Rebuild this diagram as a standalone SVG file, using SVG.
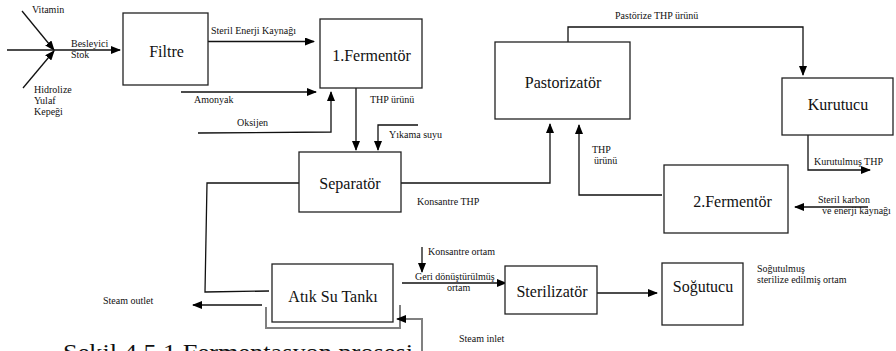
<svg xmlns="http://www.w3.org/2000/svg" width="896" height="351" viewBox="0 0 896 351">
<defs>
<marker id="arr" markerUnits="userSpaceOnUse" markerWidth="10" markerHeight="8" refX="9" refY="4" orient="auto">
<path d="M0,0 L10,4 L0,8 z" fill="#000"/>
</marker>
<style>
text{font-family:'Liberation Serif','DejaVu Serif','Times New Roman',serif}
.box{fill:#fff;stroke:#222;stroke-width:1.3}
.big{font-size:16px;fill:#111;text-anchor:middle}
.sm{font-size:10px;fill:#111}
.ln{fill:none;stroke:#111;stroke-width:1.3}
.gray{fill:none;stroke:#808080;stroke-width:2}
.cap{font-size:23.5px;fill:#111}
</style>
</defs>
<rect width="896" height="351" fill="#fff"/>
<g id="connectors">
<path class="ln" d="M22,11 L54,50" marker-end="url(#arr)"/>
<path class="ln" d="M23,88 L54,51" marker-end="url(#arr)"/>
<path class="ln" d="M7,50 L120,50" marker-end="url(#arr)"/>
<path class="ln" d="M208,41.5 L314,41.5" marker-end="url(#arr)"/>
<path class="ln" d="M181,92 L316,92" marker-end="url(#arr)"/>
<path class="ln" d="M198,133 L331,132 L331,92" marker-end="url(#arr)"/>
<path class="ln" d="M356,88 L356,150" marker-end="url(#arr)"/>
<path class="ln" d="M418,125 L378,125 L378,150" marker-end="url(#arr)"/>
<path class="ln" d="M299,183 L207,183 L205,292 L269,291"/>
<path class="ln" d="M401,183 L550,183 L550,124" marker-end="url(#arr)"/>
<path class="ln" d="M662,195 L579,195 L579,125" marker-end="url(#arr)"/>
<path class="ln" d="M568,42 L568,27 L803,27 L803,75" marker-end="url(#arr)"/>
<path class="ln" d="M808,135 L808,170 L870,170" marker-end="url(#arr)"/>
<path class="ln" d="M868,207 L795,207" marker-end="url(#arr)"/>
<path class="ln" d="M262,305 L193,305" marker-end="url(#arr)"/>
<path class="gray" d="M266,307 L266,328 L400,328 L400,305"/>
<path class="gray" d="M422,356 L422,319 L397,319" marker-end="url(#arr)"/>
<path class="ln" d="M422,247 L422,272" marker-end="url(#arr)"/>
<path class="ln" d="M402,283 L506,283" marker-end="url(#arr)"/>
<path class="ln" d="M597,293 L657,293" marker-end="url(#arr)"/>
</g>
<g id="labels">
<text class="sm" x="32" y="13">Vitamin</text>
<text class="sm" x="71" y="47">Besleyici</text>
<text class="sm" x="71" y="58">Stok</text>
<text class="sm" x="34" y="93">Hidrolize</text>
<text class="sm" x="34" y="104">Yulaf</text>
<text class="sm" x="34" y="115">Kepeği</text>
<text class="sm" x="211" y="34">Steril Enerji Kaynağı</text>
<text class="sm" x="194" y="103">Amonyak</text>
<text class="sm" x="237" y="126">Oksijen</text>
<text class="sm" x="370" y="103">THP ürünü</text>
<text class="sm" x="389" y="138">Yıkama suyu</text>
<text class="sm" x="615" y="19">Pastörize THP ürünü</text>
<text class="sm" x="417" y="205">Konsantre THP</text>
<text class="sm" x="592" y="153">THP</text>
<text class="sm" x="594" y="164">ürünü</text>
<text class="sm" x="814" y="165">Kurutulmuş THP</text>
<text class="sm" x="818" y="203">Steril karbon</text>
<text class="sm" x="822" y="214">ve enerji kaynağı</text>
<text class="sm" x="103" y="304">Steam outlet</text>
<text class="sm" x="428" y="255">Konsantre ortam</text>
<text class="sm" x="415" y="280">Geri dönüştürülmüş</text>
<text class="sm" x="447" y="291">ortam</text>
<text class="sm" x="459" y="342">Steam inlet</text>
<text class="sm" x="757" y="272">Soğutulmuş</text>
<text class="sm" x="757" y="283">sterilize edilmiş ortam</text>
</g>
<g id="filtre"><rect class="box" x="123" y="13" width="85" height="72"/><text class="big" x="166.5" y="56.5">Filtre</text></g>
<g id="fermentor1"><rect class="box" x="320" y="19" width="102" height="69"/><text class="big" x="371.5" y="61">1.Fermentör</text></g>
<g id="pastorizator"><rect class="box" x="495" y="42" width="135" height="77"/><text class="big" x="563" y="87.5">Pastorizatör</text></g>
<g id="kurutucu"><rect class="box" x="782" y="78" width="111" height="57"/><text class="big" x="838" y="110">Kurutucu</text></g>
<g id="separator"><rect class="box" x="299" y="152" width="102" height="60"/><text class="big" x="350" y="189">Separatör</text></g>
<g id="fermentor2"><rect class="box" x="664" y="165" width="124" height="68"/><text class="big" x="732.5" y="207">2.Fermentör</text></g>
<g id="atiksu"><rect class="box" x="272" y="264" width="121" height="58"/><text class="big" x="333" y="302">Atık Su Tankı</text></g>
<g id="sterilizator"><rect class="box" x="505" y="266" width="92" height="48"/><text class="big" x="552" y="296.5">Sterilizatör</text></g>
<g id="sogutucu"><rect class="box" x="662" y="263" width="81" height="62"/><text class="big" x="703" y="291.5">Soğutucu</text></g>
<text class="cap" x="63" y="360" textLength="350" lengthAdjust="spacingAndGlyphs">Şekil 4.5.1 Fermentasyon prosesi</text>
</svg>
